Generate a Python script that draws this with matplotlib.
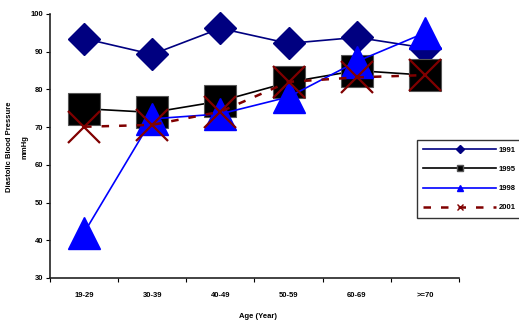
import matplotlib
matplotlib.use("Agg")
import matplotlib.pyplot as plt

plt.rcParams['font.family'] = ['Liberation Sans', 'DejaVu Sans']

categories = ["19-29", "30-39", "40-49", "50-59", "60-69", ">=70"]
y1991 = [93.5, 89.3, 96.2, 92.2, 93.8, 91.0]
y1995 = [74.9, 73.9, 76.9, 81.9, 85.0, 83.8]
y1998 = [42.0, 72.2, 73.5, 78.0, 87.4, 95.0]
y2001 = [70.1, 70.6, 74.1, 82.0, 83.2, 83.8]
yticks = [30, 40, 50, 60, 70, 80, 90, 100]

fig = plt.figure(figsize=(5.19, 3.22), dpi=100)
ax = fig.add_axes([50/519, 1-278/322, 409/519, 264/322])

x = list(range(len(categories)))
l1, = ax.plot(x, y1991, color='#000080', lw=1.2, marker='D', ms=16.5,
              mfc='#000080', mec='#000080', label='1991', clip_on=False)
l2, = ax.plot(x, y1995, color='black', lw=1.2, marker='s', ms=23,
              mfc='black', mec='#555555', mew=0.8, label='1995', clip_on=False)
l3, = ax.plot(x, y1998, color='#0000FF', lw=1.2, marker='^', ms=23,
              mfc='#0000FF', mec='#0000FF', label='1998', clip_on=False)
l4, = ax.plot(x, y2001, color='#800000', lw=1.8, ls=(0, (3, 4)), marker='x', ms=23,
              mew=1.6, mec='#800000', label='2001', clip_on=False)

ax.set_xlim(-0.5, len(categories) - 0.5)
ax.set_ylim(30, 100)
ax.set_yticks(yticks)
ax.set_yticklabels([str(v) for v in yticks], fontsize=5.5, fontweight='bold')
ax.set_xticks(x)
ax.set_xticklabels(categories, fontsize=5.5, fontweight='bold')
ax.set_xticks([i + 0.5 for i in range(-1, len(categories))], minor=True)
ax.tick_params(axis='x', which='major', length=0, pad=10)
ax.tick_params(axis='x', which='minor', length=3, width=0.8, direction='out')
ax.tick_params(axis='y', length=3, width=0.8, direction='out', pad=2)
for s in ['top', 'right']:
    ax.spines[s].set_visible(False)
for s in ['left', 'bottom']:
    ax.spines[s].set_linewidth(1.2)
    ax.spines[s].set_color('#222222')

fig.text(10/519, 1-147/322, "Diastolic Blood Pressure", rotation=90,
         ha='center', va='center', fontsize=5.5, fontweight='bold')
fig.text(25/519, 1-147/322, "mmHg", rotation=90,
         ha='center', va='center', fontsize=5.5, fontweight='bold')
fig.text(258/519, 1-316/322, "Age (Year)", ha='center', va='center',
         fontsize=5.5, fontweight='bold')

leg = fig.legend(handles=[l1, l2, l3, l4], loc='upper left',
                 bbox_to_anchor=(417/519, 1-140/322), fontsize=5.5,
                 handlelength=9.5, labelspacing=1.55, borderpad=0.85,
                 handletextpad=0.3, fancybox=False, frameon=True,
                 borderaxespad=0)
leg.get_frame().set_edgecolor('black')
leg.get_frame().set_linewidth(1.0)
for t in leg.get_texts():
    t.set_fontweight('bold')
for h in leg.legend_handles:
    h.set_markersize(4)
    h.set_markeredgewidth(1.0)

fig.savefig("out.png", dpi=100)
